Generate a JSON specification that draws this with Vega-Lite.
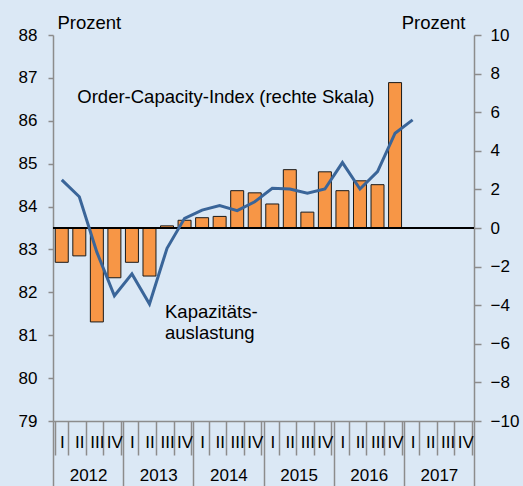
{
  "$schema": "https://vega.github.io/schema/vega-lite/v6.json",
  "width": 421,
  "height": 386,
  "autosize": {"type": "none"},
  "padding": {"left": 53, "top": 35, "right": 49, "bottom": 65},
  "background": "#dbe8f5",
  "config": {
    "view": {"stroke": null},
    "font": "Liberation Sans",
    "axis": {
      "domainColor": "#8c8c8c",
      "tickColor": "#8c8c8c",
      "domainWidth": 1.5,
      "tickWidth": 1.5,
      "labelColor": "#000000",
      "titleColor": "#000000",
      "labelFont": "Liberation Sans",
      "titleFont": "Liberation Sans",
      "labelFontSize": 17,
      "titleFontSize": 18.5,
      "titleFontWeight": "normal",
      "grid": false
    }
  },
  "datasets": {
    "main": [
      {"q": "2012 I", "cap": 82.70, "oci": 2.49},
      {"q": "2012 II", "cap": 82.85, "oci": 1.62},
      {"q": "2012 III", "cap": 81.31, "oci": -1.25},
      {"q": "2012 IV", "cap": 82.34, "oci": -3.51},
      {"q": "2013 I", "cap": 82.70, "oci": -2.38},
      {"q": "2013 II", "cap": 82.38, "oci": -3.94},
      {"q": "2013 III", "cap": 83.55, "oci": -1.05},
      {"q": "2013 IV", "cap": 83.68, "oci": 0.50},
      {"q": "2014 I", "cap": 83.74, "oci": 0.93},
      {"q": "2014 II", "cap": 83.77, "oci": 1.16},
      {"q": "2014 III", "cap": 84.37, "oci": 0.90},
      {"q": "2014 IV", "cap": 84.32, "oci": 1.36},
      {"q": "2015 I", "cap": 84.06, "oci": 2.06},
      {"q": "2015 II", "cap": 84.86, "oci": 2.02},
      {"q": "2015 III", "cap": 83.87, "oci": 1.80},
      {"q": "2015 IV", "cap": 84.81, "oci": 2.02},
      {"q": "2016 I", "cap": 84.37, "oci": 3.39},
      {"q": "2016 II", "cap": 84.60, "oci": 2.02},
      {"q": "2016 III", "cap": 84.51, "oci": 2.92},
      {"q": "2016 IV", "cap": 86.89, "oci": 4.91},
      {"q": "2017 I", "cap": null, "oci": 5.60}
    ],
    "years": [
      {"year": "2012"}, {"year": "2013"}, {"year": "2014"},
      {"year": "2015"}, {"year": "2016"}, {"year": "2017"}
    ],
    "notes": [
      {"q": "2012 II", "value": 86.55, "label": "Order-Capacity-Index (rechte Skala)"},
      {"q": "2013 III", "value": 81.53, "label": "Kapazitäts-\nauslastung"}
    ]
  },
  "layer": [
    {
      "data": {"name": "main"},
      "mark": {"type": "bar", "color": "#f79646", "stroke": "#1a1a1a", "strokeWidth": 1},
      "encoding": {
        "x": {
          "field": "q", "type": "ordinal",
          "scale": {
            "type": "band",
            "domain": ["2012 I","2012 II","2012 III","2012 IV","2013 I","2013 II","2013 III","2013 IV","2014 I","2014 II","2014 III","2014 IV","2015 I","2015 II","2015 III","2015 IV","2016 I","2016 II","2016 III","2016 IV","2017 I","2017 II","2017 III","2017 IV"],
            "paddingInner": 0.26, "paddingOuter": 0.13
          },
          "axis": {
            "orient": "bottom", "title": null, "labelAngle": 0,
            "labelExpr": "split(datum.value, ' ')[1]",
            "tickSize": 34, "tickBand": "extent",
            "labelPadding": -13, "labelBaseline": "middle",
            "labelOverlap": false, "labelFlush": false, "labelBound": false
          }
        },
        "y": {
          "field": "cap", "type": "quantitative",
          "scale": {"domain": [79, 88], "nice": false, "zero": false},
          "axis": {
            "orient": "left", "values": [79,80,81,82,83,84,85,86,87,88],
            "tickSize": 5, "labelPadding": 11,
            "title": "Prozent", "titleAngle": 0, "titleX": 4, "titleY": -7,
            "titleAlign": "left", "titleBaseline": "alphabetic"
          }
        },
        "y2": {"datum": 83.5}
      }
    },
    {
      "data": {"name": "main"},
      "mark": {"type": "rule", "color": "#000000", "strokeWidth": 1.5},
      "encoding": {
        "y": {"datum": 83.5, "type": "quantitative", "scale": {"domain": [79, 88], "nice": false, "zero": false}, "axis": null}
      }
    },
    {
      "data": {"name": "main"},
      "mark": {"type": "line", "color": "#3a6599", "strokeWidth": 3},
      "encoding": {
        "x": {
          "field": "q", "type": "ordinal",
          "scale": {
            "type": "point",
            "domain": ["2012 I","2012 II","2012 III","2012 IV","2013 I","2013 II","2013 III","2013 IV","2014 I","2014 II","2014 III","2014 IV","2015 I","2015 II","2015 III","2015 IV","2016 I","2016 II","2016 III","2016 IV","2017 I","2017 II","2017 III","2017 IV"],
            "padding": 0.5
          },
          "axis": null
        },
        "y": {
          "field": "oci", "type": "quantitative",
          "scale": {"domain": [-10, 10], "nice": false, "zero": false},
          "axis": {
            "orient": "right", "values": [-10,-8,-6,-4,-2,0,2,4,6,8,10],
            "tickSize": 7, "labelPadding": 9,
            "title": "Prozent", "titleAngle": 0, "titleX": -9, "titleY": -7,
            "titleAlign": "right", "titleBaseline": "alphabetic"
          }
        }
      }
    },
    {
      "data": {"name": "notes"},
      "mark": {"type": "text", "align": "left", "baseline": "middle", "fontSize": 18.5, "lineBreak": "\n", "lineHeight": 21, "color": "#000000", "dx": -2},
      "encoding": {
        "x": {
          "field": "q", "type": "ordinal",
          "scale": {
            "type": "point",
            "domain": ["2012 I","2012 II","2012 III","2012 IV","2013 I","2013 II","2013 III","2013 IV","2014 I","2014 II","2014 III","2014 IV","2015 I","2015 II","2015 III","2015 IV","2016 I","2016 II","2016 III","2016 IV","2017 I","2017 II","2017 III","2017 IV"],
            "padding": 0.5
          },
          "axis": null
        },
        "y": {"field": "value", "type": "quantitative", "scale": {"domain": [79, 88], "nice": false, "zero": false}, "axis": null},
        "text": {"field": "label"}
      }
    },
    {
      "data": {"name": "years"},
      "mark": {"type": "bar", "opacity": 0},
      "encoding": {
        "x": {
          "field": "year", "type": "ordinal",
          "scale": {"type": "band", "domain": ["2012","2013","2014","2015","2016","2017"], "padding": 0},
          "axis": {
            "orient": "bottom", "title": null, "labelAngle": 0, "domain": false,
            "tickSize": 65, "tickBand": "extent",
            "labelPadding": -11, "labelBaseline": "middle",
            "labelOverlap": false, "labelFlush": false, "labelBound": false
          }
        }
      }
    }
  ],
  "resolve": {"scale": {"x": "independent", "y": "independent"}}
}
